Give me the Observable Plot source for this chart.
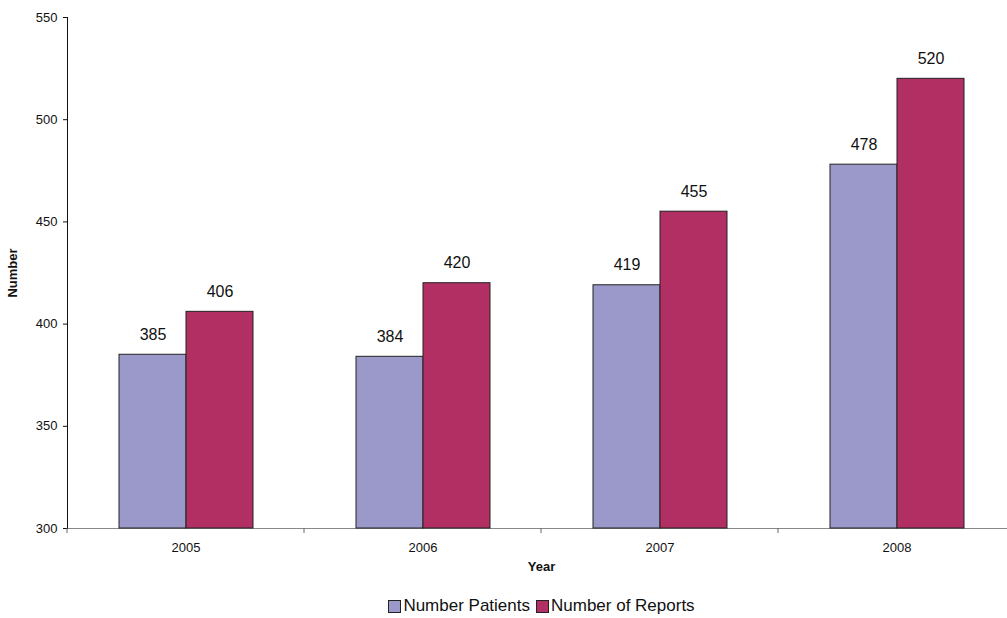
<!DOCTYPE html>
<html>
<head>
<meta charset="utf-8">
<script src="https://cdn.jsdelivr.net/npm/d3@7"></script>
<script src="https://cdn.jsdelivr.net/npm/@observablehq/plot@0.6"></script>
<style>
  body { margin: 0; background: #fff; font-family: "Liberation Sans", Arial, sans-serif; }
  #chart svg { display: block; overflow: visible; }
  .legend { display: flex; justify-content: center; align-items: center; margin-left: 68px; width: 947px;
            margin-top: 11px; font-size: 17px; color: #111; }
  .legend .item { display: flex; align-items: center; margin: 0 3px; }
  .legend .sw { width: 11px; height: 11px; border: 1px solid #222; margin-right: 2px; }
</style>
</head>
<body>
<div id="chart"></div>
<div class="legend" id="legend"></div>
<script>
// Yearly counts of patients and reports
const years = ["2005", "2006", "2007", "2008"];
const series = ["Number Patients", "Number of Reports"];
const patients = [385, 384, 419, 478];
const reports = [406, 420, 455, 520];
const colors = ["#9a99c9", "#b22f64"];
const yTicks = [300, 350, 400, 450, 500, 550];
const baseline = 300;

const data = years.flatMap((year, i) => [
  {year, series: series[0], value: patients[i]},
  {year, series: series[1], value: reports[i]}
]);

const chart = Plot.plot({
  width: 1007,
  height: 585,
  marginLeft: 67,
  marginRight: -8,
  marginTop: 17,
  marginBottom: 57,
  style: {fontFamily: "Liberation Sans, Arial, sans-serif", fontSize: "13px", color: "#111"},
  fx: {domain: years, padding: 0, label: "Year"},
  x: {domain: series, paddingInner: 0, paddingOuter: 0.755, axis: null},
  y: {domain: [300, 550], label: "Number"},
  color: {domain: series, range: colors},
  marks: [
    Plot.ruleY([baseline], {stroke: "#888", strokeWidth: 1.2}),
    Plot.barY(data, {fx: "year", x: "series", y1: baseline, y2: "value", fill: "series", stroke: "#222", strokeWidth: 1}),
    Plot.text(data, {fx: "year", x: "series", y: "value", text: d => String(d.value), dy: -20, fontSize: 16, fill: "#111"}),
    Plot.frame({anchor: "left", facetAnchor: "left", stroke: "#111"}),
    Plot.axisY({ticks: yTicks, tickSize: 4, tickPadding: 6, fontSize: 13, label: "Number",
                labelAnchor: "center", labelArrow: "none", labelOffset: 60}),
    Plot.axisFx({anchor: "bottom", tickSize: 0, tickPadding: 14, fontSize: 13, label: "Year",
                 labelAnchor: "center", labelArrow: "none", labelOffset: 42})
  ]
});

// Bold axis titles
d3.select(chart).selectAll('[aria-label="y-axis label"] text, [aria-label="fx-axis label"] text, [aria-label="y-axis label"], [aria-label="fx-axis label"]')
  .attr("font-weight", "bold");

// Tick marks at the boundaries between year groups
const fx = chart.scale("fx");
const y = chart.scale("y");
const yb = y.apply(baseline);
const g = d3.select(chart).append("g").attr("stroke", "#666");
years.forEach(yr => {
  const x0 = fx.apply(yr);
  g.append("line").attr("x1", x0).attr("x2", x0).attr("y1", yb).attr("y2", yb + 5);
});
const xEnd = fx.apply(years[years.length - 1]) + fx.bandwidth;
g.append("line").attr("x1", xEnd).attr("x2", xEnd).attr("y1", yb).attr("y2", yb + 5);

document.getElementById("chart").appendChild(chart);

// Legend
const legend = document.getElementById("legend");
series.forEach((s, i) => {
  const item = document.createElement("div");
  item.className = "item";
  const sw = document.createElement("span");
  sw.className = "sw";
  sw.style.background = colors[i];
  const label = document.createElement("span");
  label.textContent = s;
  item.append(sw, label);
  legend.appendChild(item);
});
</script>
</body>
</html>
